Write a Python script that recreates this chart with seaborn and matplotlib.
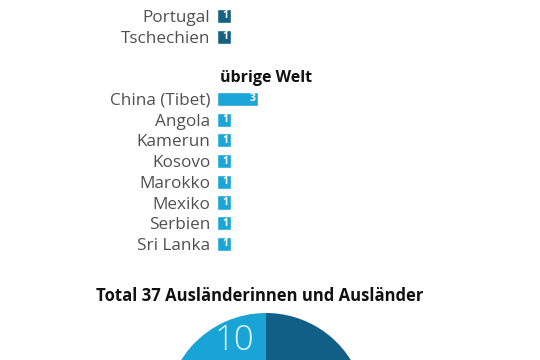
import pandas as pd
import seaborn as sns
from matplotlib import pyplot as plt

# values
europe = ["Portugal", "Tschechien"]
europe_vals = [1, 1]
world = ["China (Tibet)", "Angola", "Kamerun", "Kosovo", "Marokko", "Mexiko", "Serbien", "Sri Lanka"]
world_vals = [3, 1, 1, 1, 1, 1, 1, 1]
pie_vals = [10, 27]
pie_labels = ["10", "27"]
total_title = "Total 37 Ausländerinnen und Ausländer"
world_heading = "übrige Welt"

DARK = "#15617f"
LIGHT = "#1ba5d8"
PIE_DARK = "#0f5f86"
PIE_LIGHT = "#1aa4d6"


def main():
    sns.set_style("white")
    plt.rcParams["font.family"] = ["Open Sans", "DejaVu Sans"]

    df = pd.DataFrame({
        "land": europe + world,
        "wert": europe_vals + world_vals,
        "gruppe": ["europa"] * len(europe) + ["welt"] * len(world),
    })
    order = europe + [" ", "  "] + world

    fig = plt.figure(figsize=(5.4, 3.6), dpi=100)

    ax = fig.add_axes([0.402, 0.2935, 0.2537, 0.691])
    sns.barplot(data=df, x="wert", y="land", hue="gruppe", order=order,
                palette={"europa": DARK, "welt": LIGHT}, dodge=False,
                width=0.68, legend=False, saturation=1, ax=ax)
    ax.set_xlim(0, 10)
    ax.set_ylim(len(order) - 0.5, -0.5)
    ax.set_xlabel("")
    ax.set_ylabel("")
    ax.set_xticks([])
    ax.tick_params(axis="y", length=0, pad=5, labelsize=12.3, labelcolor="#505050")
    for s in ax.spines.values():
        s.set_visible(False)

    for _, row in df.iterrows():
        ax.text(row["wert"] - 0.2, order.index(row["land"]), str(row["wert"]),
                ha="right", va="center", color="white", fontsize=7.5, fontweight="bold")

    ax.text(0.2, order.index("  "), world_heading, ha="left", va="center",
            fontsize=11.5, fontweight="bold", color="#111111")

    fig.text(0.48, 1 - 296 / 360, total_title, ha="center", va="center",
             fontsize=12, fontweight="bold", color="#111111")

    pax = fig.add_axes([166 / 540, -153 / 360, 200 / 540, 200 / 360])
    pax.pie(pie_vals, colors=[PIE_LIGHT, PIE_DARK], startangle=90, counterclock=True,
            wedgeprops={"linewidth": 0})
    pax.set_xlim(-1, 1)
    pax.set_ylim(-1, 1)
    pax.set_aspect("equal")
    pax.text(-0.32, 0.72, pie_labels[0], ha="center", va="center", color="#dff4fc",
             fontsize=25, fontweight="light")

    fig.savefig("out.png", dpi=100)


if __name__ == "__main__":
    main()
